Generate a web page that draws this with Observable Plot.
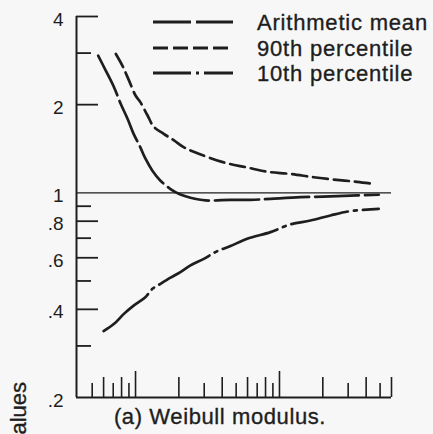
<!DOCTYPE html>
<html>
<head>
<meta charset="utf-8">
<script src="https://cdn.jsdelivr.net/npm/d3@7"></script>
<script src="https://cdn.jsdelivr.net/npm/@observablehq/plot@0.6"></script>
<style>
  html, body { margin: 0; padding: 0; background: #f7f7f7; }
  #wrap { position: relative; width: 433px; height: 434px; overflow: hidden; font-family: "Liberation Sans", Arial, sans-serif; color: #222; }
  #wrap svg { display: block; }
  #overlay { position: absolute; left: 0; top: 0; }
  #caption { position: absolute; left: 0; width: 440px; top: 404px; text-align: center; font-size: 22px; letter-spacing: 0.6px; color: #1e1e1e; white-space: nowrap; -webkit-text-stroke: 0.35px #1e1e1e; }
</style>
</head>
<body>
<div id="wrap"></div>
<script>
// ---- data ----
const seriesNames = ["Arithmetic mean", "90th percentile", "10th percentile"];

const meanX = [0.55, 0.62, 0.71, 0.79, 0.88, 0.97, 1.08, 1.17, 1.31, 1.49, 1.75, 2.05, 2.41, 3.06, 4.57, 6.29, 8.66, 14.0, 22.6, 34.6, 48.9];
const meanY = [2.94, 2.62, 2.29, 2.01, 1.79, 1.59, 1.43, 1.31, 1.19, 1.10, 1.03, 0.986, 0.962, 0.942, 0.946, 0.946, 0.954, 0.966, 0.972, 0.98, 0.985];

const p90X = [0.73, 0.81, 0.90, 1.0, 1.08, 1.21, 1.34, 1.57, 1.85, 2.17, 2.75, 4.10, 5.97, 8.23, 11.9, 17.3, 23.8, 34.6, 46.4];
const p90Y = [2.98, 2.72, 2.42, 2.15, 2.04, 1.84, 1.68, 1.59, 1.51, 1.43, 1.36, 1.27, 1.22, 1.18, 1.16, 1.13, 1.11, 1.09, 1.07];

const p10X = [0.60, 0.71, 0.83, 0.97, 1.17, 1.31, 1.49, 1.75, 2.05, 2.41, 2.98, 3.69, 4.57, 5.97, 8.66, 11.9, 16.4, 22.6, 31.1, 48.9];
const p10Y = [0.337, 0.357, 0.386, 0.412, 0.44, 0.47, 0.489, 0.513, 0.536, 0.565, 0.595, 0.632, 0.658, 0.697, 0.734, 0.78, 0.804, 0.837, 0.866, 0.882];

const xDomain = [0.389, 60];
const yDomain = [0.2, 4];
const yTickLabels = [4, 2, 1, 0.8, 0.6, 0.4, 0.2];
const yLongTicks = [4, 2, 0.8, 0.6, 0.4];
const yShortTicks = [3, 0.9, 0.7, 0.5, 0.3];
const xTallTicks = [1, 10];
const xMediumTicks = [0.6, 0.8, 2, 4, 6, 8, 20, 40, 60];
const xShortTicks = [0.5, 0.7, 0.9, 3, 5, 7, 9, 30, 50];

// ---- build ----
const toRows = (xs, ys) => xs.map((x, i) => ({x, y: ys[i]}));
const W = 433, H = 434, ML = 76, MR = 42, MT = 16, MB = 37;
const FW = W - ML - MR, FH = H - MT - MB;
const ink = "#1e1e1e";
const dashes = ["44,6", "15,6", "58,6,3,6"];
const legendDashes = ["38,5", "15,5", "38,5,3,5"];

const chart = Plot.plot({
  width: W, height: H,
  marginLeft: ML, marginRight: MR, marginTop: MT, marginBottom: MB,
  x: {type: "log", domain: xDomain, axis: null, label: null},
  y: {type: "log", domain: yDomain, label: null},
  style: {background: "transparent", color: ink, fontFamily: "'Liberation Sans', Arial, sans-serif", overflow: "visible"},
  marks: [
    Plot.axisY(yTickLabels, {
      tickSize: 0, tickPadding: 13, fontSize: 19, dy: 3, label: null,
      stroke: ink, strokeWidth: 0.35, fill: ink,
      tickFormat: d => d < 1 ? String(d).replace(/^0/, "") : String(d)
    }),
    Plot.ruleX([xDomain[0]], {stroke: ink, strokeWidth: 2}),
    Plot.ruleY([yDomain[0]], {stroke: ink, strokeWidth: 2}),
    Plot.ruleY([1], {stroke: ink, strokeWidth: 1.3}),
    Plot.tickY(yLongTicks, {y: d => d, insetRight: FW - 22, stroke: ink, strokeWidth: 1.8}),
    Plot.tickY(yShortTicks, {y: d => d, insetRight: FW - 15, stroke: ink, strokeWidth: 1.8}),
    Plot.tickX(xTallTicks, {x: d => d, insetTop: FH - 26, stroke: ink, strokeWidth: 1.6}),
    Plot.tickX(xMediumTicks, {x: d => d, insetTop: FH - 20, stroke: ink, strokeWidth: 1.6}),
    Plot.tickX(xShortTicks, {x: d => d, insetTop: FH - 14, stroke: ink, strokeWidth: 1.6}),
    Plot.line(toRows(meanX, meanY), {x: "x", y: "y", stroke: ink, strokeWidth: 2.7, strokeDasharray: dashes[0], curve: "catmull-rom"}),
    Plot.line(toRows(p90X, p90Y), {x: "x", y: "y", stroke: ink, strokeWidth: 2.7, strokeDasharray: dashes[1], curve: "catmull-rom"}),
    Plot.line(toRows(p10X, p10Y), {x: "x", y: "y", stroke: ink, strokeWidth: 2.7, strokeDasharray: dashes[2], curve: "catmull-rom"})
  ]
});

const wrap = document.getElementById("wrap");
wrap.appendChild(chart);

// legend + side label overlay
const ns = "http://www.w3.org/2000/svg";
const ov = document.createElementNS(ns, "svg");
ov.setAttribute("id", "overlay");
ov.setAttribute("width", W);
ov.setAttribute("height", H);
const legendY = [22, 48, 73];
seriesNames.forEach((name, i) => {
  const ln = document.createElementNS(ns, "line");
  ln.setAttribute("x1", 153); ln.setAttribute("x2", 233);
  ln.setAttribute("y1", legendY[i]); ln.setAttribute("y2", legendY[i]);
  ln.setAttribute("stroke", ink); ln.setAttribute("stroke-width", 2.8);
  ln.setAttribute("stroke-dasharray", legendDashes[i]);
  ov.appendChild(ln);
  const tx = document.createElementNS(ns, "text");
  tx.setAttribute("x", 257); tx.setAttribute("y", legendY[i] + 8);
  tx.setAttribute("font-size", 22);
  tx.setAttribute("letter-spacing", "0.8");
  tx.setAttribute("fill", ink);
  tx.setAttribute("stroke", ink);
  tx.setAttribute("stroke-width", 0.35);
  tx.setAttribute("font-family", "'Liberation Sans', Arial, sans-serif");
  tx.textContent = name;
  ov.appendChild(tx);
});
const side = document.createElementNS(ns, "text");
side.setAttribute("transform", "translate(26,382) rotate(-90)");
side.setAttribute("text-anchor", "end");
side.setAttribute("font-size", 22);
side.setAttribute("fill", ink);
side.setAttribute("stroke", ink);
side.setAttribute("stroke-width", 0.35);
side.setAttribute("font-family", "'Liberation Sans', Arial, sans-serif");
side.textContent = "values";
ov.appendChild(side);
wrap.appendChild(ov);

const cap = document.createElement("div");
cap.id = "caption";
cap.textContent = "(a) Weibull modulus.";
wrap.appendChild(cap);
</script>
</body>
</html>
